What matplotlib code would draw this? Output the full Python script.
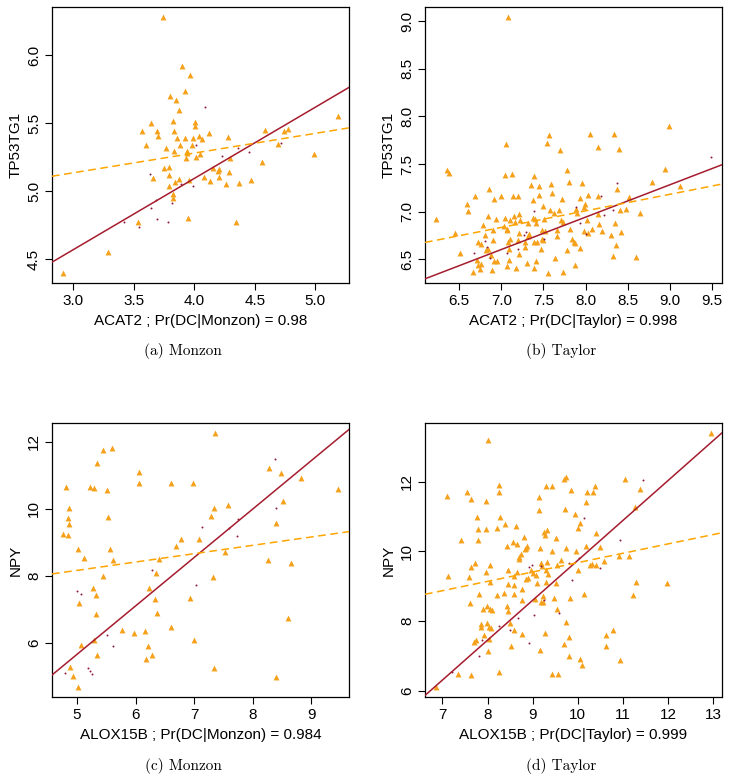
import numpy as np
import matplotlib
matplotlib.use("Agg")
import matplotlib.pyplot as plt

plt.rcParams['font.family'] = ['Liberation Sans', 'DejaVu Sans']

# ---- colours ----
tri_col = '#F5A11C'
dot_col = '#8E1B3A'
line_col = '#A51C2E'

# ---- (a) Monzon : ACAT2 vs TP53TG1 ----
a_tri_x = [3.741, 3.899, 3.963, 3.921, 3.799, 3.849, 3.871, 3.824, 3.642, 4.010,
           4.007, 3.570, 3.697, 3.830, 4.123, 3.700, 3.921, 3.858, 3.988, 4.037,
           4.068, 4.278, 4.582, 4.746, 4.776, 5.188, 3.603, 3.885, 3.979, 3.769,
           3.835, 3.938, 3.941, 4.046, 4.690, 3.935, 4.012, 4.292, 4.989, 4.560,
           3.752, 3.791, 4.156, 4.203, 4.195, 3.791, 4.082, 4.209, 4.286, 3.664,
           3.871, 3.960, 3.838, 4.129, 4.267, 4.367, 4.466, 3.791, 3.824, 3.824,
           3.952, 3.537, 4.344, 3.288, 2.917]
a_tri_y = [6.278, 5.919, 5.850, 5.736, 5.697, 5.670, 5.599, 5.517, 5.502, 5.505,
           5.478, 5.441, 5.443, 5.443, 5.429, 5.404, 5.387, 5.387, 5.387, 5.406,
           5.384, 5.394, 5.451, 5.438, 5.453, 5.554, 5.342, 5.340, 5.340, 5.318,
           5.296, 5.296, 5.281, 5.273, 5.347, 5.246, 5.251, 5.246, 5.276, 5.214,
           5.167, 5.177, 5.170, 5.163, 5.148, 5.116, 5.103, 5.106, 5.143, 5.099,
           5.089, 5.084, 5.067, 5.071, 5.052, 5.062, 5.081, 5.034, 4.978, 4.948,
           4.805, 4.776, 4.773, 4.552, 4.399]
a_dot_x = [4.090, 4.018, 4.231, 4.364, 4.455, 4.718, 3.636, 3.891, 3.993, 3.686,
           3.819, 3.647, 3.694, 3.783, 3.545, 3.418]
a_dot_y = [5.621, 5.337, 5.256, 5.313, 5.286, 5.355, 5.128, 5.054, 5.037, 4.931,
           4.909, 4.874, 4.793, 4.776, 4.739, 4.776]

# ---- (b) Taylor : ACAT2 vs TP53TG1 ----
b_tri_x = [7.075, 7.567, 8.052, 8.337, 8.984, 7.056, 7.548, 7.694, 8.147, 8.397,
           6.353, 6.385, 7.040, 7.127, 7.782, 7.385, 7.587, 7.357, 7.448, 7.960,
           7.798, 8.940, 8.786, 8.377, 9.115, 6.857, 6.694, 7.000, 7.135, 7.202,
           6.917, 7.444, 7.599, 7.377, 7.726, 7.940, 8.024, 8.151, 8.516, 6.591,
           7.492, 6.603, 7.575, 7.631, 7.690, 7.881, 7.976, 7.992, 7.901, 8.143,
           8.413, 8.484, 8.647, 6.226, 6.841, 6.778, 6.940, 7.048, 7.099, 7.155,
           7.210, 7.218, 7.028, 7.067, 7.163, 7.321, 7.373, 7.405, 7.417, 7.504,
           7.706, 7.734, 8.016, 8.353, 8.159, 6.452, 6.806, 6.901, 7.071, 7.214,
           7.329, 7.313, 7.484, 7.524, 7.659, 7.813, 7.976, 8.071, 8.198, 8.298,
           8.425, 7.202, 7.107, 6.901, 6.722, 6.758, 7.075, 7.286, 7.385, 7.425,
           7.496, 7.667, 7.841, 7.865, 7.873, 8.028, 6.837, 6.817, 7.087, 7.282,
           7.476, 7.778, 7.937, 8.357, 6.512, 6.881, 7.214, 6.718, 6.758, 6.730,
           6.917, 6.948, 7.095, 7.306, 7.413, 7.639, 8.321, 8.603, 6.663, 6.750,
           6.893, 7.067, 7.179, 7.393, 7.556, 7.738, 7.869, 7.488]
b_tri_y = [9.042, 7.807, 7.821, 7.821, 7.902, 7.708, 7.722, 7.648, 7.676, 7.658,
           7.436, 7.404, 7.390, 7.400, 7.436, 7.379, 7.294, 7.284, 7.273, 7.305,
           7.316, 7.453, 7.316, 7.238, 7.266, 7.238, 7.160, 7.160, 7.167, 7.160,
           7.136, 7.171, 7.199, 7.118, 7.129, 7.143, 7.178, 7.160, 7.157, 7.083,
           7.065, 7.005, 7.016, 6.991, 7.019, 7.033, 7.051, 7.076, 6.987, 6.973,
           7.016, 7.030, 6.987, 6.927, 6.952, 6.864, 6.920, 6.934, 6.917, 6.959,
           6.980, 6.917, 6.853, 6.814, 6.888, 6.878, 6.931, 6.924, 6.881, 6.924,
           6.910, 6.896, 6.913, 6.885, 6.867, 6.772, 6.758, 6.807, 6.804, 6.779,
           6.768, 6.740, 6.811, 6.800, 6.811, 6.818, 6.800, 6.818, 6.797, 6.758,
           6.782, 6.705, 6.712, 6.705, 6.677, 6.662, 6.684, 6.677, 6.684, 6.677,
           6.698, 6.744, 6.712, 6.687, 6.669, 6.775, 6.613, 6.599, 6.613, 6.634,
           6.606, 6.599, 6.624, 6.655, 6.571, 6.549, 6.553, 6.489, 6.451, 6.443,
           6.479, 6.482, 6.489, 6.465, 6.479, 6.514, 6.532, 6.525, 6.366, 6.394,
           6.383, 6.429, 6.412, 6.408, 6.359, 6.362, 6.436, 6.712]
b_dot_x = [7.385, 7.274, 6.813, 6.829, 6.671, 6.861, 7.067, 7.202, 7.298, 7.504,
           7.889, 7.933, 8.000, 8.377, 8.179, 8.218, 8.329, 9.488]
b_dot_y = [7.008, 6.758, 6.691, 6.634, 6.563, 6.510, 6.567, 6.613, 6.786, 6.712,
           7.054, 6.878, 6.765, 7.298, 7.164, 6.970, 7.019, 7.570]

# ---- (c) Monzon : ALOX15B vs NPY ----
c_tri_x = [7.361, 5.592, 5.438, 5.336, 8.283, 6.064, 8.485, 8.824, 6.053, 6.610,
           6.980, 4.807, 5.216, 5.296, 5.506, 9.455, 8.519, 7.572, 4.863, 7.339,
           7.288, 4.852, 5.523, 4.863, 8.397, 4.761, 4.841, 5.011, 5.569, 6.770,
           7.083, 6.696, 7.526, 5.125, 5.609, 6.394, 8.255, 8.647, 6.348, 5.444,
           7.327, 5.273, 6.223, 5.324, 6.935, 6.331, 5.034, 6.365, 5.324, 8.608,
           6.610, 5.768, 6.155, 5.967, 5.063, 5.285, 6.997, 6.218, 5.347, 6.286,
           6.183, 7.344, 4.880, 4.937, 8.397, 5.023]
c_tri_y = [12.258, 11.801, 11.742, 11.354, 11.225, 11.086, 11.066, 10.907, 10.768, 10.778,
           10.768, 10.659, 10.639, 10.609, 10.570, 10.579, 10.222, 10.123, 10.023, 10.033,
           9.785, 9.735, 9.745, 9.546, 9.586, 9.238, 9.228, 8.801, 8.791, 9.109,
           9.089, 8.900, 8.702, 8.533, 8.454, 8.513, 8.473, 8.384, 8.076, 7.987,
           7.947, 7.629, 7.629, 7.430, 7.331, 7.301, 7.172, 6.884, 6.844, 6.745,
           6.477, 6.387, 6.348, 6.288, 5.940, 6.089, 6.069, 5.901, 5.632, 5.642,
           5.503, 5.245, 5.265, 5.007, 4.977, 4.679]
c_dot_x = [4.795, 5.006, 5.074, 5.506, 5.620, 5.188, 5.228, 5.250, 6.286, 7.026,
           7.134, 7.600, 7.731, 7.754, 8.386, 8.397]
c_dot_y = [5.106, 7.540, 7.440, 6.218, 5.901, 5.255, 5.146, 5.066, 8.165, 7.708,
           9.467, 9.417, 9.179, 9.685, 11.493, 10.023]

# ---- (d) Taylor : ALOX15B vs NPY ----
d_tri_x = [12.948, 8.006, 11.047, 9.745, 9.693, 9.293, 9.427, 8.250, 10.373, 11.387,
           7.547, 10.203, 10.344, 7.096, 7.636, 7.977, 8.243, 9.131, 9.131, 9.723,
           11.261, 9.944, 10.174, 10.041, 10.004, 9.841, 7.777, 8.280, 8.391, 8.620,
           7.784, 7.969, 8.213, 7.414, 7.792, 8.813, 9.256, 9.316, 9.264, 9.515,
           10.396, 8.428, 8.568, 8.642, 8.842, 8.872, 8.820, 9.153, 9.427, 9.745,
           9.959, 10.181, 10.499, 8.746, 8.694, 8.702, 7.718, 8.051, 7.629, 7.118,
           7.599, 7.969, 8.457, 8.650, 8.576, 8.968, 9.071, 9.175, 9.197, 9.316,
           9.301, 9.338, 9.634, 9.545, 10.004, 10.263, 10.588, 10.403, 10.322, 10.921,
           11.143, 8.058, 8.443, 8.576, 8.857, 8.894, 9.094, 9.293, 9.523, 9.005,
           7.621, 7.814, 7.903, 7.991, 8.065, 8.088, 8.213, 8.354, 8.428, 8.457,
           8.576, 8.761, 8.768, 9.049, 9.219, 9.227, 9.175, 9.478, 9.545, 9.819,
           10.129, 9.745, 7.851, 7.858, 7.984, 8.036, 8.073, 7.925, 8.043, 7.710,
           7.747, 8.021, 8.502, 8.591, 8.761, 8.509, 9.271, 9.796, 9.685, 9.168,
           9.811, 10.048, 10.092, 10.625, 10.632, 7.340, 7.629, 8.250, 9.427, 9.552,
           6.859, 10.943, 10.788, 11.979, 11.298, 11.224]
d_tri_y = [13.402, 13.202, 12.086, 12.143, 12.095, 11.895, 11.876, 11.905, 11.886, 11.800,
           11.695, 11.704, 11.704, 11.599, 11.494, 11.437, 11.714, 11.561, 11.199, 11.218,
           11.275, 11.084, 11.418, 10.827, 10.684, 11.771, 10.979, 10.989, 10.779, 10.741,
           10.655, 10.645, 10.665, 10.321, 10.321, 10.417, 10.560, 10.626, 10.474, 10.388,
           10.521, 10.149, 10.273, 10.207, 10.111, 10.149, 10.064, 10.102, 10.016, 10.092,
           10.016, 10.149, 10.130, 9.920, 9.835, 9.768, 9.653, 9.615, 9.548, 9.291,
           9.253, 9.415, 9.463, 9.405, 9.291, 9.463, 9.329, 9.672, 9.587, 9.682,
           9.463, 9.339, 9.749, 9.615, 9.463, 9.615, 9.730, 9.596, 9.625, 9.863,
           9.882, 9.129, 9.052, 9.033, 9.195, 9.234, 9.081, 9.110, 9.100, 9.367,
           8.509, 8.776, 8.356, 8.432, 8.337, 8.308, 8.747, 8.814, 8.442, 8.289,
           8.776, 8.909, 8.595, 8.623, 8.709, 8.556, 8.537, 8.652, 8.347, 8.671,
           8.776, 7.975, 7.927, 7.822, 7.936, 7.822, 7.803, 7.583, 7.488, 7.393,
           7.440, 7.126, 7.936, 7.746, 7.622, 7.288, 7.641, 7.526, 7.345, 7.154,
           7.002, 6.906, 6.744, 7.583, 7.269, 6.477, 6.439, 6.534, 6.486, 6.467,
           6.105, 6.868, 7.726, 9.091, 9.129, 8.747]
d_dot_x = [11.446, 10.129, 10.928, 10.499, 8.909, 8.990, 9.190, 9.796, 10.018, 9.870,
           9.575, 9.249, 9.020, 8.672, 8.502, 8.243, 7.888, 7.806, 7.207, 8.909]
d_dot_y = [12.067, 10.970, 10.321, 9.529, 9.548, 9.615, 9.587, 9.672, 9.825, 9.176,
           8.222, 8.604, 8.175, 8.079, 7.746, 7.841, 7.440, 7.001, 6.525, 7.364]

# regression lines: (intercept, slope)
fit_dot = {'a': (2.996, 0.524), 'b': (4.223, 0.340), 'c': (-1.585, 1.447), 'd': (-1.742, 1.1487)}
fit_tri = {'a': (4.699, 0.145), 'b': (5.617, 0.174), 'c': (6.911, 0.2495), 'd': (6.984, 0.2694)}

panels = [
    ('a', a_tri_x, a_tri_y, a_dot_x, a_dot_y, 'ACAT2 ; Pr(DC|Monzon) = 0.98', 'TP53TG1',
     [3.0, 3.5, 4.0, 4.5, 5.0], [4.5, 5.0, 5.5, 6.0], '%.1f', '(a) Monzon'),
    ('b', b_tri_x, b_tri_y, b_dot_x, b_dot_y, 'ACAT2 ; Pr(DC|Taylor) = 0.998', 'TP53TG1',
     [6.5, 7.0, 7.5, 8.0, 8.5, 9.0, 9.5], [6.5, 7.0, 7.5, 8.0, 8.5, 9.0], '%.1f', '(b) Taylor'),
    ('c', c_tri_x, c_tri_y, c_dot_x, c_dot_y, 'ALOX15B ; Pr(DC|Monzon) = 0.984', 'NPY',
     [5, 6, 7, 8, 9], [6, 8, 10, 12], '%d', '(c) Monzon'),
    ('d', d_tri_x, d_tri_y, d_dot_x, d_dot_y, 'ALOX15B ; Pr(DC|Taylor) = 0.999', 'NPY',
     [7, 8, 9, 10, 11, 12, 13], [6, 8, 10, 12], '%d', '(d) Taylor'),
]

W, H = 729, 783
fig = plt.figure(figsize=(W / 100, H / 100), dpi=100)
boxes = {'a': (52, 7, 349, 283), 'b': (425, 7, 722, 283),
         'c': (52, 423, 349, 697), 'd': (425, 423, 722, 697)}
cap_pos = {'a': (183, 351), 'b': (561, 351), 'c': (183, 766), 'd': (561, 766)}

for key, tx, ty, dx, dy, xlab, ylab, xt, yt, fmt, cap in panels:
    l, t, r, b = boxes[key]
    ax = fig.add_axes([l / W, 1 - b / H, (r - l) / W, (b - t) / H])
    allx = np.array(tx + dx)
    ally = np.array(ty + dy)
    # R-style 4% axis expansion
    ex = 0.04 * (allx.max() - allx.min())
    ey = 0.04 * (ally.max() - ally.min())
    xlim = (allx.min() - ex, allx.max() + ex)
    ylim = (ally.min() - ey, ally.max() + ey)

    ax.scatter(tx, ty, marker='^', s=18, color=tri_col, linewidths=0, zorder=3)
    ax.scatter(dx, dy, marker='o', s=2, color=dot_col, linewidths=0, zorder=3)

    xs = np.array(xlim)
    b0, b1 = fit_dot[key]
    ax.plot(xs, b0 + b1 * xs, color=line_col, lw=1.1, zorder=4)
    b0, b1 = fit_tri[key]
    ax.plot(xs, b0 + b1 * xs, color='#FFA500', lw=1.1, ls=(0, (5, 3)), zorder=4)

    ax.set_xlim(xlim)
    ax.set_ylim(ylim)
    ax.set_xticks(xt)
    ax.set_yticks(yt)
    ax.set_xticklabels([fmt % v for v in xt])
    ax.set_yticklabels([fmt % v for v in yt], rotation=90, va='center')
    ax.tick_params(labelsize=11, length=5, width=0.8, pad=3)
    for s in ax.spines.values():
        s.set_linewidth(0.9)
    ax.set_xlabel(xlab, fontsize=11, labelpad=4)
    ax.set_ylabel(ylab, fontsize=11, labelpad=3)

    cx, cy = cap_pos[key]
    fig.text(cx / W, 1 - cy / H, cap, ha='center', va='center',
             fontsize=11, family='cmr10')

fig.savefig('out.png', dpi=100)
